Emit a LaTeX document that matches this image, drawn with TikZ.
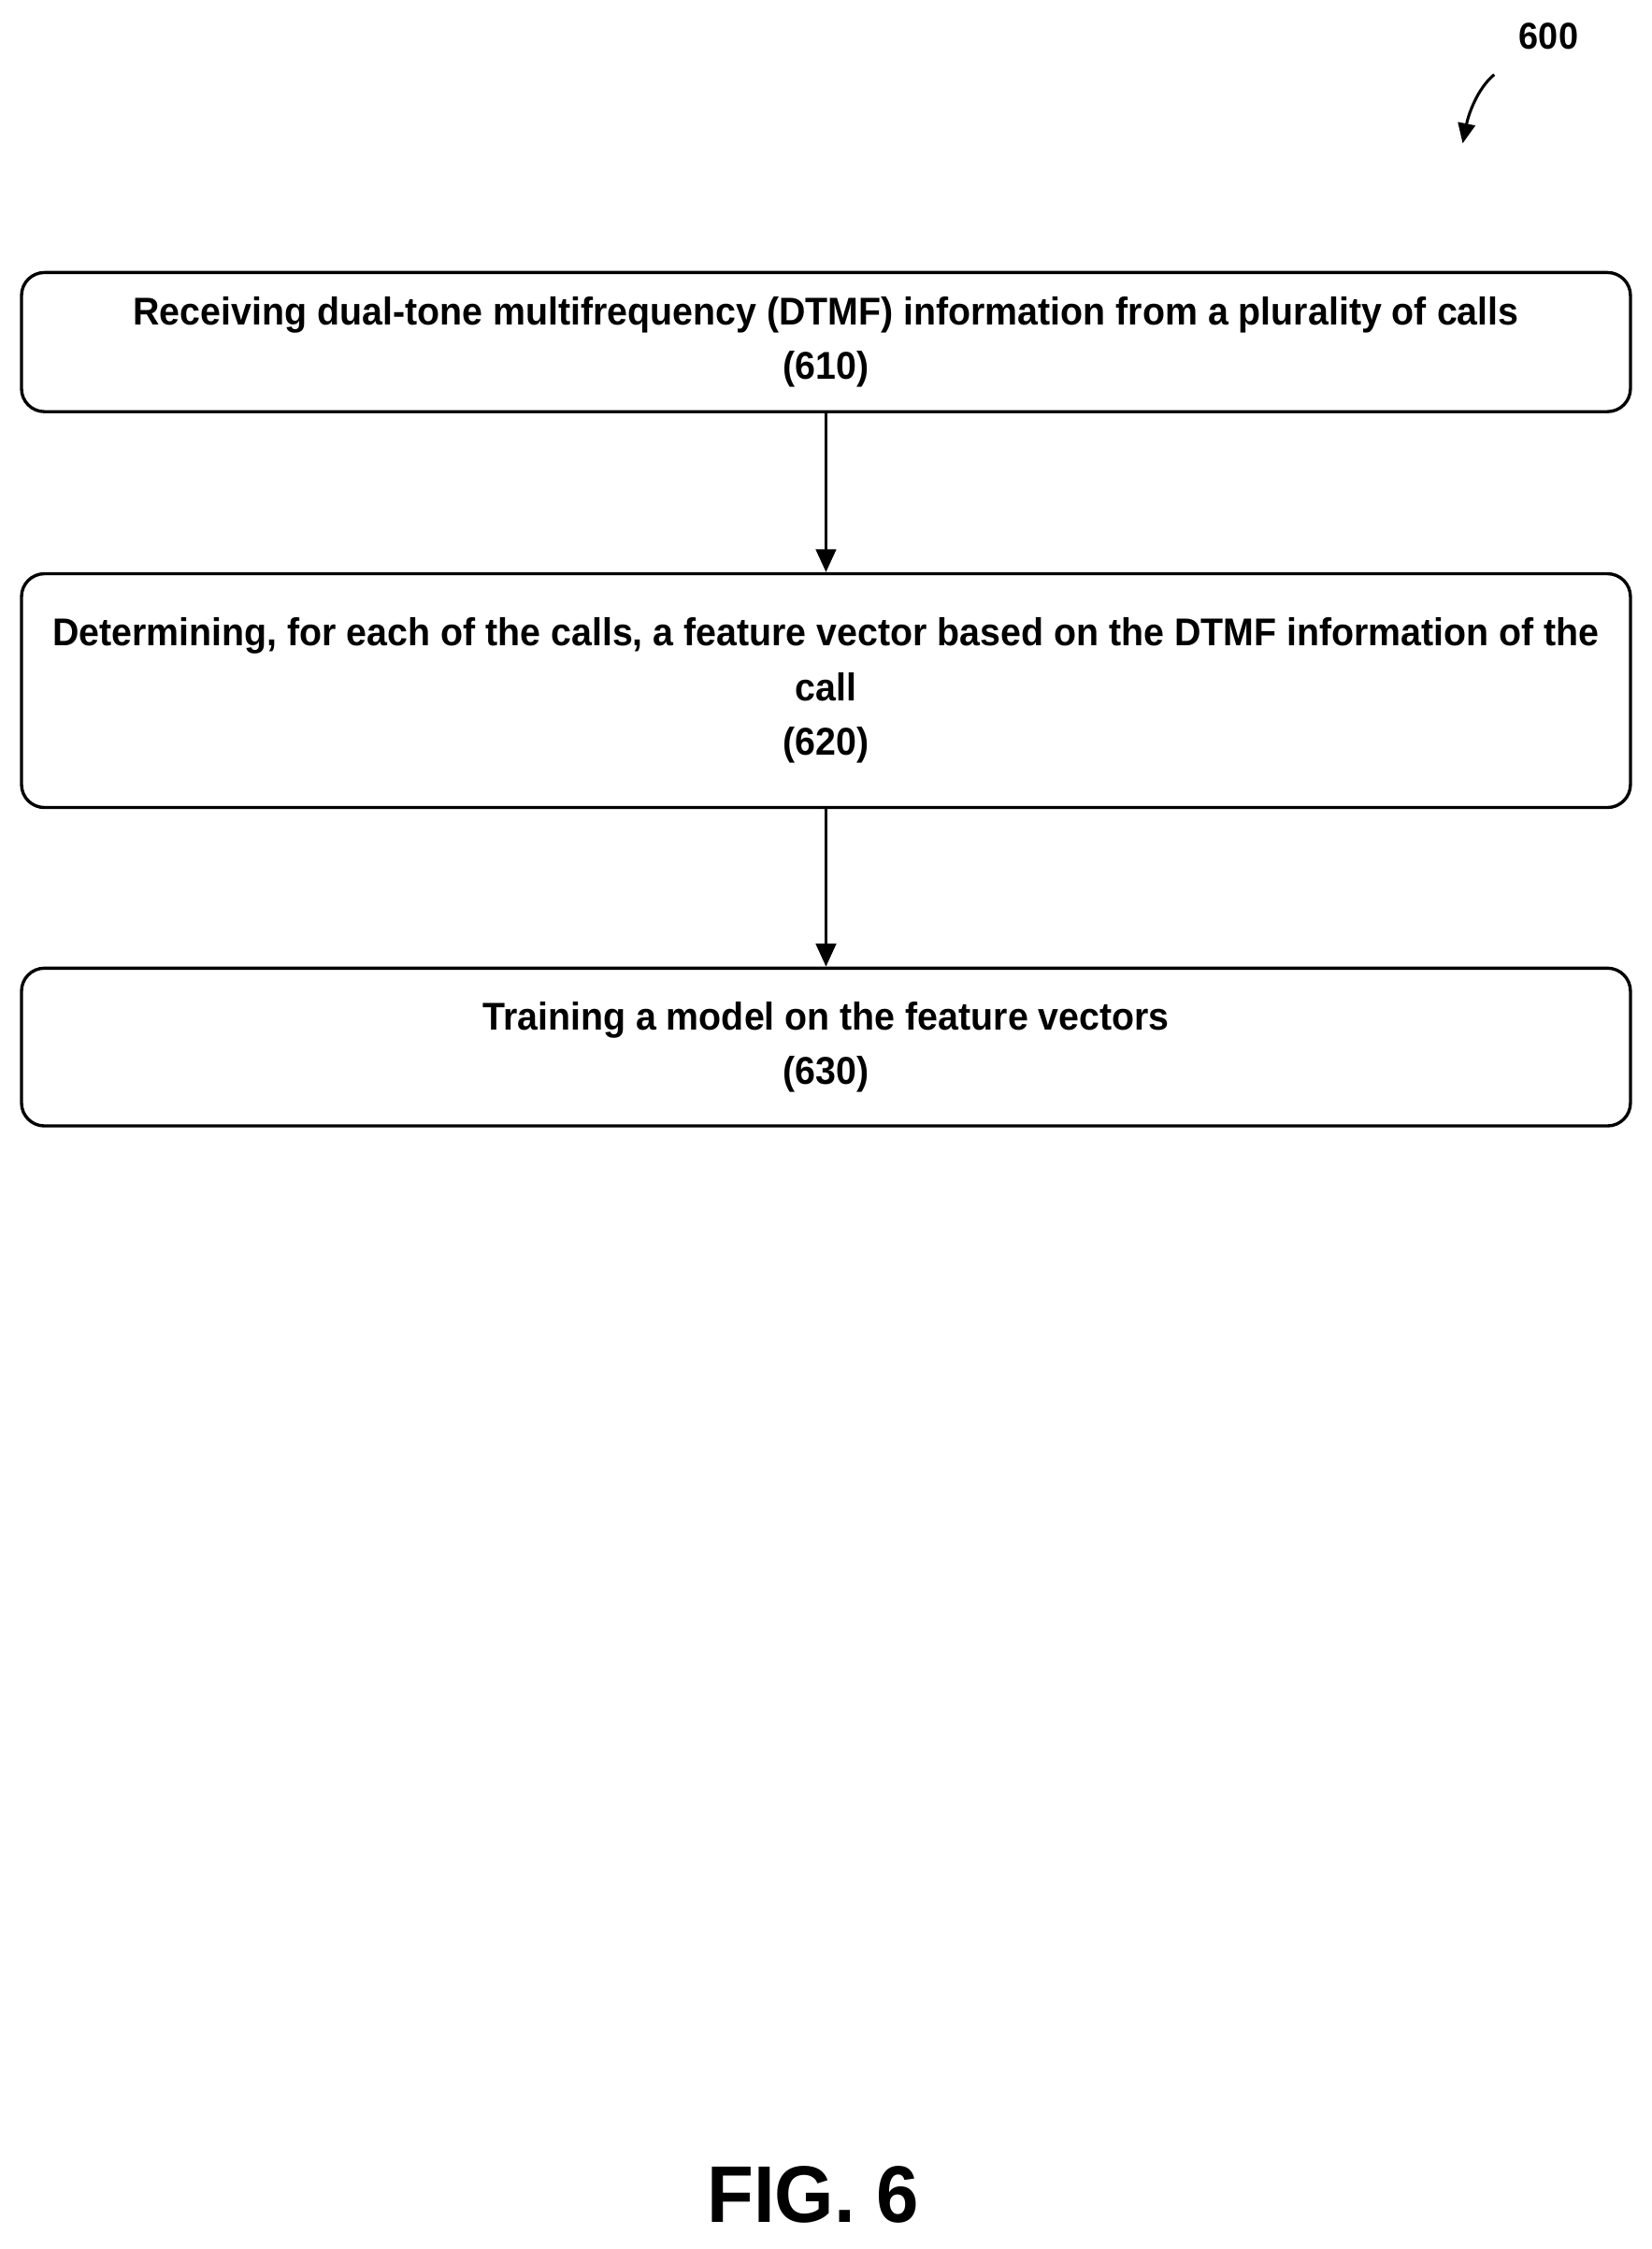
\documentclass[tikz,border=0pt]{standalone}
\usepackage{fontspec}
\setmainfont{Liberation Sans}[FakeStretch=0.95]
\usetikzlibrary{arrows.meta}
\begin{document}
\begin{tikzpicture}[x=1pt,y=-1pt,
  box/.style={draw,line width=2.2pt,rounded corners=16pt,minimum width=1122pt,align=center,font=\fontsize{27}{38}\selectfont\bfseries,inner sep=0pt},
  arr/.style={-{Triangle[length=16pt,width=14pt]},line width=2.2pt}]
\useasboundingbox (0,0) rectangle (1152,1568);
\node[box,minimum height=97pt] (b1) at (576,238.5) {Receiving dual-tone multifrequency (DTMF) information from a plurality of calls\\(610)};
\node[box,minimum height=163pt] (b2) at (576,481.5) {Determining, for each of the calls, a feature vector based on the DTMF information of the\\call\\(620)};
\node[box,minimum height=110pt] (b3) at (576,730) {Training a model on the feature vectors\\(630)};
\draw[arr] (b1) -- (b2);
\draw[arr] (b2) -- (b3);
\node[font=\fontsize{26}{28}\selectfont\bfseries] (l600) at (1080,25) {600};
\coordinate (t600) at (1020,100);
\draw[-{Triangle[length=14pt,width=12pt]},line width=2pt] (1042,52) .. controls (1030,62) and (1024,80) .. (t600);
\node[font=\fontsize{56}{60}\selectfont\bfseries] (fig) at (567,1530) {FIG. 6};
\end{tikzpicture}
\end{document}
